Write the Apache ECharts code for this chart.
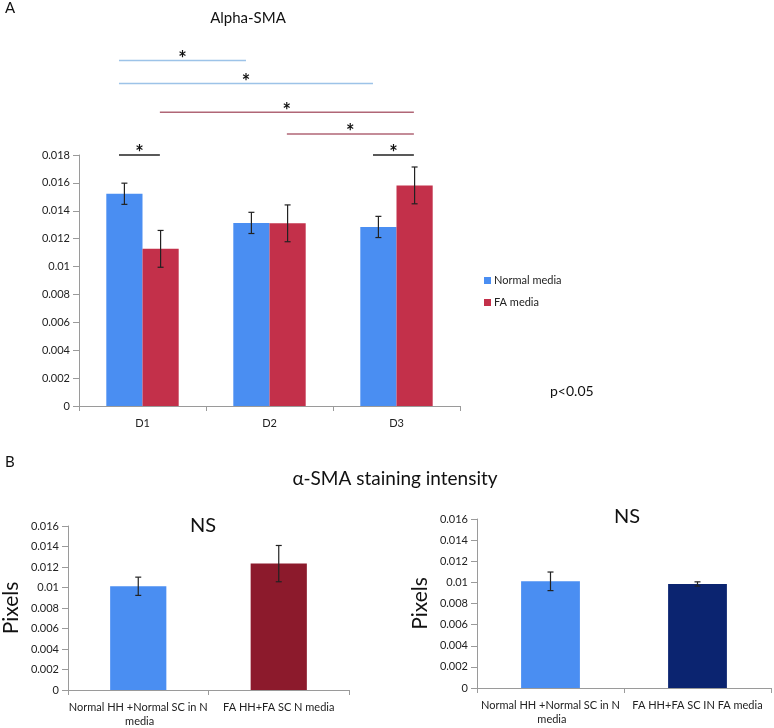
<!DOCTYPE html>
<html>
<head>
<meta charset="utf-8">
<script src="https://cdn.jsdelivr.net/npm/echarts@6/dist/echarts.min.js"></script>
<style>html,body{margin:0;padding:0;background:#fff}#c{width:774px;height:728px}</style>
</head>
<body>
<div id="c"></div>
<script>
// ---- Data ----
var daysA = ['D1', 'D2', 'D3'];
var normalA = [0.01522, 0.01313, 0.01284];
var normalErrA = [0.00076, 0.00076, 0.00076];
var faA = [0.01127, 0.01310, 0.01582];
var faErrA = [0.00132, 0.00132, 0.00132];
var seriesNamesA = ['Normal media', 'FA media'];
// brackets: [startCat, startSeries, endCat, endSeries, level, colorKey]
var bracketsA = [
  [0, 0, 1, 0, 0.02477, 'blue'],
  [0, 0, 2, 0, 0.02312, 'blue'],
  [0, 1, 2, 1, 0.02107, 'red'],
  [1, 1, 2, 1, 0.01951, 'red'],
  [0, 0, 0, 1, 0.0180, 'black'],
  [2, 0, 2, 1, 0.0180, 'black']
];
var yTicksA = [0, 0.018, 0.002];

var catsB1 = ['Normal HH +Normal SC in N media', 'FA HH+FA SC N media'];
var valsB1 = [0.01012, 0.01233];
var errB1 = [0.00089, 0.00177];
var catsB2 = ['Normal HH +Normal SC in N media', 'FA HH+FA SC IN FA media'];
var valsB2 = [0.01010, 0.00985];
var errB2 = [0.00088, 0.00020];
var yTicksB = [0, 0.016, 0.002];

// ---- Styles ----
var FONT = 'Lato';
var C_BLUE = '#4a8ef2', C_RED = '#c3304a', C_DRED = '#8c1a2c', C_NAVY = '#0b2470';
var bracketColors = { blue: '#9dc3e8', red: '#b06676', black: '#222' };
var AXIS_C = '#9a9a9a';
var CAT_GAP_A = 0.43;

var chart = echarts.init(document.getElementById('c'));

function yAxisCfg(grid, t, name, gap) {
  return {
    type: 'value', gridIndex: grid, min: t[0], max: t[1], interval: t[2],
    splitLine: { show: false },
    axisLine: { show: true, lineStyle: { color: AXIS_C } },
    axisTick: { show: true, length: 6, lineStyle: { color: AXIS_C } },
    axisLabel: { color: '#222', fontFamily: FONT, fontSize: 11, margin: 9 },
    name: name || '', nameLocation: 'middle', nameRotate: 90, nameGap: gap || 0,
    nameTextStyle: { fontFamily: FONT, fontSize: 21, color: '#111' }
  };
}
function xAxisCfg(grid, cats, wrap) {
  return {
    type: 'category', gridIndex: grid, data: cats,
    axisLine: { show: true, lineStyle: { color: AXIS_C } },
    axisTick: { show: true, length: 5, lineStyle: { color: AXIS_C } },
    axisLabel: { interval: 0, color: '#222', fontFamily: FONT, fontSize: 11, margin: 10, lineHeight: 14,
      width: wrap ? 140 : undefined, overflow: wrap ? 'break' : undefined, hideOverlap: false }
  };
}

function errA(values, errs, sIdx) {
  return {
    type: 'custom', xAxisIndex: 0, yAxisIndex: 0, z: 10,
    data: values.map(function (v, i) { return [i, v, errs[i], sIdx]; }),
    renderItem: function (params, api) {
      var cat = api.value(0), v = api.value(1), e = api.value(2), s = api.value(3);
      var band = api.size([1, 0])[0];
      var bw = band * (1 - CAT_GAP_A) / 2;
      var c = api.coord([cat, v]);
      var x = c[0] - bw + (s + 0.5) * bw;
      var hi = api.coord([cat, v + e])[1], lo = api.coord([cat, v - e])[1];
      var st = { stroke: '#222', lineWidth: 1.2 };
      return { type: 'group', children: [
        { type: 'line', shape: { x1: x, y1: hi, x2: x, y2: lo }, style: st },
        { type: 'line', shape: { x1: x - 3, y1: hi, x2: x + 3, y2: hi }, style: st },
        { type: 'line', shape: { x1: x - 3, y1: lo, x2: x + 3, y2: lo }, style: st }
      ] };
    }
  };
}
function errB(grid, values, errs) {
  return {
    type: 'custom', xAxisIndex: grid, yAxisIndex: grid, z: 10,
    data: values.map(function (v, i) { return [i, v, errs[i]]; }),
    renderItem: function (params, api) {
      var cat = api.value(0), v = api.value(1), e = api.value(2);
      var x = api.coord([cat, v])[0];
      var hi = api.coord([cat, v + e])[1], lo = api.coord([cat, v - e])[1];
      var st = { stroke: '#222', lineWidth: 1.2 };
      return { type: 'group', children: [
        { type: 'line', shape: { x1: x, y1: hi, x2: x, y2: lo }, style: st },
        { type: 'line', shape: { x1: x - 3, y1: hi, x2: x + 3, y2: hi }, style: st },
        { type: 'line', shape: { x1: x - 3, y1: lo, x2: x + 3, y2: lo }, style: st }
      ] };
    }
  };
}

var bracketSeries = {
  type: 'custom', xAxisIndex: 0, yAxisIndex: 0, clip: false, z: 10, silent: true,
  data: bracketsA.map(function (b) { return [b[0], b[1], b[2], b[3], b[4]]; }),
  renderItem: function (params, api) {
    var b = bracketsA[params.dataIndex];
    var band = api.size([1, 0])[0];
    var bw = band * (1 - CAT_GAP_A) / 2;
    function px(cat, s) {
      var c = api.coord([cat, 0])[0];
      return c - bw + s * bw + (s === 0 ? 0.35 : 0.48) * bw;
    }
    var x1 = px(b[0], b[1]), x2 = px(b[2], b[3]);
    var y = api.coord([0, b[4]])[1];
    var col = bracketColors[b[5]];
    return { type: 'group', children: [
      { type: 'line', shape: { x1: x1, y1: y, x2: x2, y2: y }, style: { stroke: col, lineWidth: 1.5 } },
      { type: 'text', x: (x1 + x2) / 2, y: y + 9, style: { text: '*', fill: '#111', fontFamily: FONT,
        fontSize: 20, fontWeight: 'bold', align: 'center', verticalAlign: 'bottom' } }
    ] };
  }
};

var option = {
  backgroundColor: '#fff',
  animation: false,
  textStyle: { fontFamily: FONT },
  title: [
    { text: 'Alpha-SMA', left: 243, top: 6, textAlign: 'center',
      textStyle: { fontFamily: FONT, fontSize: 15, fontWeight: 'normal', color: '#111' } },
    { text: 'α-SMA staining intensity', left: 390, top: 464, textAlign: 'center',
      textStyle: { fontFamily: FONT, fontSize: 19, fontWeight: 'normal', color: '#111' } },
    { text: 'NS', left: 198, top: 511, textAlign: 'center',
      textStyle: { fontFamily: FONT, fontSize: 20, fontWeight: 'normal', color: '#111' } },
    { text: 'NS', left: 622, top: 502, textAlign: 'center',
      textStyle: { fontFamily: FONT, fontSize: 20, fontWeight: 'normal', color: '#111' } }
  ],
  legend: {
    data: seriesNamesA, orient: 'vertical', left: 479, top: 270,
    itemWidth: 7, itemHeight: 7, itemGap: 11, icon: 'rect',
    textStyle: { fontFamily: FONT, fontSize: 11, color: '#222', padding: [0, 0, 0, -2] }
  },
  graphic: [
    { type: 'text', left: 5, top: 1, style: { text: 'A', fontFamily: FONT, fontSize: 15, fill: '#111' } },
    { type: 'text', left: 5, top: 455, style: { text: 'B', fontFamily: FONT, fontSize: 15, fill: '#111' } },
    { type: 'text', left: 550, top: 384, style: { text: 'p<0.05', fontFamily: FONT, fontSize: 14, fill: '#111' } }
  ],
  grid: [
    { left: 79, top: 155, width: 381, height: 251 },
    { left: 68, top: 526, width: 281, height: 166 },
    { left: 477, top: 519, width: 294, height: 169 }
  ],
  xAxis: [xAxisCfg(0, daysA, false), xAxisCfg(1, catsB1, true), xAxisCfg(2, catsB2, true)],
  yAxis: [yAxisCfg(0, yTicksA), yAxisCfg(1, yTicksB, 'Pixels', 46), yAxisCfg(2, yTicksB, 'Pixels', 46)],
  series: [
    { name: seriesNamesA[0], type: 'bar', xAxisIndex: 0, yAxisIndex: 0, data: normalA,
      itemStyle: { color: C_BLUE }, barGap: '0%', barCategoryGap: (CAT_GAP_A * 100) + '%' },
    { name: seriesNamesA[1], type: 'bar', xAxisIndex: 0, yAxisIndex: 0, data: faA,
      itemStyle: { color: C_RED }, barGap: '0%', barCategoryGap: (CAT_GAP_A * 100) + '%' },
    errA(normalA, normalErrA, 0),
    errA(faA, faErrA, 1),
    bracketSeries,
    { type: 'bar', xAxisIndex: 1, yAxisIndex: 1, barCategoryGap: '60%',
      data: valsB1.map(function (v, i) { return { value: v, itemStyle: { color: i === 0 ? C_BLUE : C_DRED } }; }) },
    errB(1, valsB1, errB1),
    { type: 'bar', xAxisIndex: 2, yAxisIndex: 2, barCategoryGap: '60%',
      data: valsB2.map(function (v, i) { return { value: v, itemStyle: { color: i === 0 ? C_BLUE : C_NAVY } }; }) },
    errB(2, valsB2, errB2)
  ]
};
chart.setOption(option);
</script>
</body>
</html>
